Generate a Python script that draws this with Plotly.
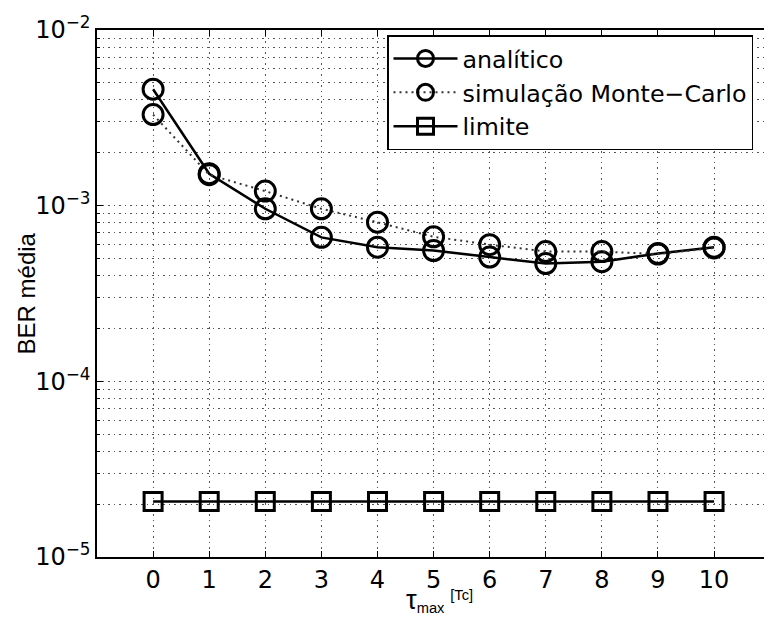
import plotly.graph_objects as go

# ---- data ----
tau_max = [0, 1, 2, 3, 4, 5, 6, 7, 8, 9, 10]
ber_analitico = [4.6e-3, 1.52e-3, 9.6e-4, 6.6e-4, 5.8e-4, 5.55e-4, 5.1e-4, 4.68e-4, 4.8e-4, 5.35e-4, 5.8e-4]
ber_monte_carlo = [3.3e-3, 1.5e-3, 1.21e-3, 9.6e-4, 8.05e-4, 6.65e-4, 6.0e-4, 5.48e-4, 5.48e-4, 5.3e-4, 5.75e-4]
ber_limite = [2.07e-5, 2.07e-5, 2.07e-5, 2.07e-5, 2.07e-5, 2.07e-5, 2.07e-5, 2.07e-5, 2.07e-5, 2.07e-5, 2.07e-5]

names = ["analítico", "simulação Monte\u2212Carlo", "limite"]
x_title = "<span style='font-size:27px'>\u03c4</span><sub>max</sub> <sup>[Tc]</sup>"
y_title = "BER média"
y_major = [1e-5, 1e-4, 1e-3, 1e-2]
y_major_text = ["10<sup>\u22125</sup>", "10<sup>\u22124</sup>", "10<sup>\u22123</sup>", "10<sup>\u22122</sup>"]
y_minor = [m * 10.0 ** e for e in (-5, -4, -3) for m in range(2, 10)]

FONT = "DejaVu Sans, Verdana, sans-serif"
FONT_V = "Liberation Sans, Arial, Helvetica, sans-serif"
GRID = "#555555"
GDASH = "1.5px,4px"

fig = go.Figure()
fig.add_trace(go.Scatter(
    x=tau_max, y=ber_analitico, name=names[0], mode="lines+markers",
    line=dict(color="black", width=2.5),
    marker=dict(symbol="circle-open", size=20, color="black", line=dict(width=3)),
))
fig.add_trace(go.Scatter(
    x=tau_max, y=ber_monte_carlo, name=names[1], mode="lines+markers",
    line=dict(color="#333333", width=2, dash="2px,4px"),
    marker=dict(symbol="circle-open", size=20, color="black", line=dict(width=3)),
))
fig.add_trace(go.Scatter(
    x=tau_max, y=ber_limite, name=names[2], mode="lines+markers",
    line=dict(color="black", width=2.5),
    marker=dict(symbol="square-open", size=18, color="black", line=dict(width=3)),
))

fig.update_layout(
    width=764, height=621,
    margin=dict(l=97, r=0, t=30, b=64),
    paper_bgcolor="white", plot_bgcolor="white",
    font=dict(family=FONT, size=23, color="black"),
    showlegend=True,
    legend=dict(
        x=0.4348, xanchor="left", y=0.9905, yanchor="top",
        bgcolor="white", bordercolor="black", borderwidth=1.5,
        font=dict(family=FONT, size=23.75, color="black"),
        itemwidth=64, tracegroupgap=0,
    ),
    annotations=[
        dict(text=y_title, xref="paper", yref="paper", x=-0.105, y=0.5,
             xanchor="center", yanchor="middle", textangle=-90, showarrow=False,
             font=dict(family=FONT_V, size=24, color="black")),
        dict(text=x_title, xref="paper", yref="paper", x=0.514, y=-0.083,
             xanchor="center", yanchor="middle", showarrow=False,
             font=dict(family=FONT_V, size=21, color="black")),
    ],
)

fig.update_xaxes(
    range=[-1, 10.89], tickvals=tau_max, ticktext=[str(v) for v in tau_max],
    ticks="inside", ticklen=6, tickcolor="black",
    showline=True, linecolor="black", linewidth=1.5, mirror="ticks",
    showgrid=True, gridcolor=GRID, griddash=GDASH, gridwidth=1,
    zeroline=False,
    tickfont=dict(family=FONT, size=24, color="black"),
)
fig.update_yaxes(
    type="log", range=[-5, -2],
    tickvals=y_major, ticktext=y_major_text,
    ticks="inside", ticklen=6, tickcolor="black",
    showline=True, linecolor="black", linewidth=1.5, mirror=False,
    showgrid=True, gridcolor=GRID, griddash=GDASH, gridwidth=1,
    zeroline=False,
    minor=dict(tickvals=y_minor, ticks="inside", ticklen=3, tickcolor="black",
               showgrid=True, gridcolor=GRID, griddash=GDASH, gridwidth=1),
    tickfont=dict(family=FONT, size=24, color="black"),
)

fig.write_html("out.html")
